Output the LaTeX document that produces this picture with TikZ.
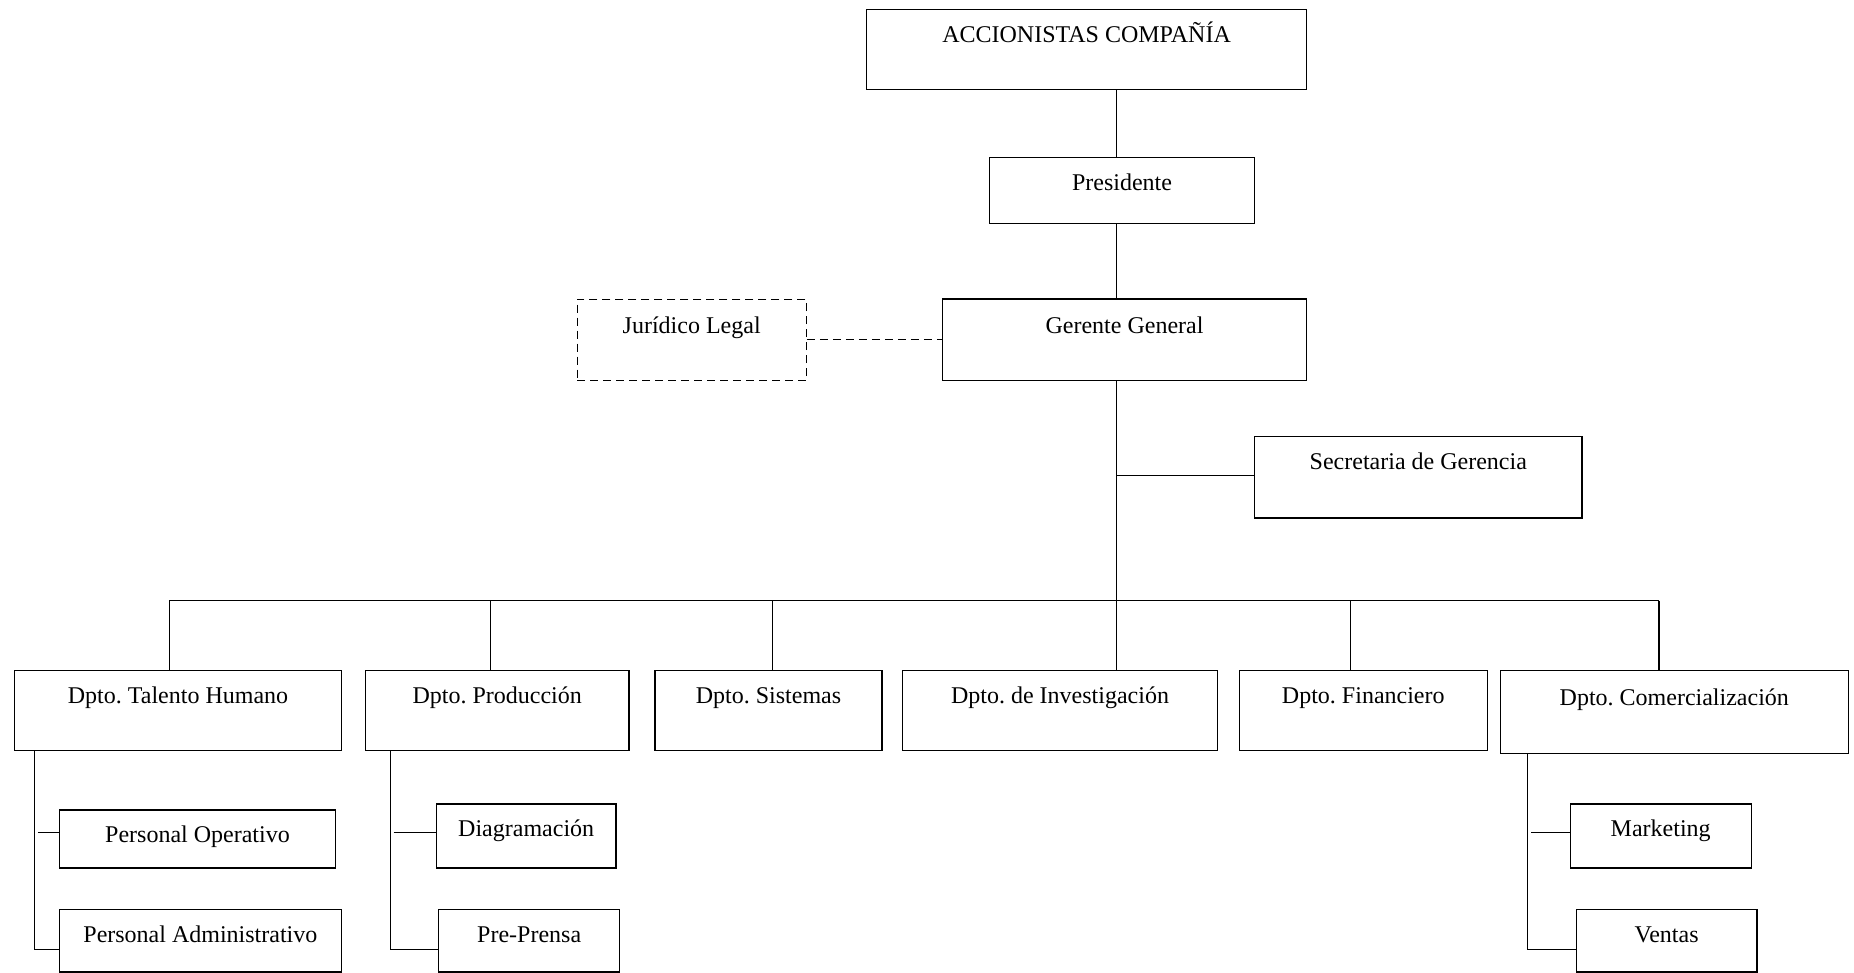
\documentclass[tikz,border=0pt]{standalone}
\usepackage{fontspec}
\setmainfont{Liberation Serif}
\frenchspacing
\usetikzlibrary{positioning}
\tikzset{caja/.style={draw, line width=0.6pt, inner sep=0pt, text height=8pt, font=\fontsize{12pt}{14pt}\selectfont}}
\tikzset{linea/.style={line width=0.6pt}}
\def\filadpto{710.6}
\def\bus{600.7}
\def\tronco{1116.2}

\begin{document}
\begin{tikzpicture}[x=0.5pt, y=-0.5pt]
  \useasboundingbox (0,0) rectangle (1854,973);

  \node[caja, minimum width=220pt, minimum height=40.2pt, text depth=15.4pt] (acc) at (1086.6,49.7) {ACCIONISTAS COMPAÑÍA};
  \node[caja, minimum width=132.4pt, minimum height=33.1pt, text depth=8.3pt] (pres) at (1122,190.4) {Presidente};
  \node[caja, minimum width=182.1pt, minimum height=40.8pt, text depth=14.7pt] (ger) at (1124.5,339.9) {Gerente General};
  \node[caja, line width=0.5pt, dash pattern=on 4pt off 2.5pt, minimum width=114.7pt, minimum height=40.8pt, text depth=14.7pt] (jur) at (691.7,339.9) {Jurídico Legal};
  \node[caja, minimum width=163.75pt, minimum height=40.8pt, text depth=16pt] (sec) at (1418.3,477.1) {Secretaria de Gerencia};

  % departamentos
  \foreach \n/\x/\w/\t in {tal/178/163.75/Dpto. Talento Humano, prod/497.2/131.85/Dpto. Producción,
      sis/768.5/113.5/Dpto. Sistemas, inv/1060/157.85/Dpto. de Investigación, fin/1363.3/124.15/Dpto. Financiero}
  \node[caja, minimum width=\w pt, minimum height=40.2pt, text depth=15.6pt] (\n) at (\x,\filadpto) {\t};
  \node[caja, minimum width=173.8pt, minimum height=41.4pt, text depth=14.2pt] (com) at (1674.3,711.8) {Dpto. Comercialización};

  % secciones
  \node[caja, minimum width=138.35pt, minimum height=29pt, text depth=4.1pt] (po) at (197.5,838.9) {Personal Operativo};
  \node[caja, minimum width=141.3pt, minimum height=31.35pt, text depth=6.6pt] (pa) at (200.4,940.7) {Personal Administrativo};
  \node[caja, minimum width=89.85pt, minimum height=32pt, text depth=7.1pt] (diag) at (526.2,836) {Diagramación};
  \node[caja, minimum width=90.45pt, minimum height=31.35pt, text depth=6.7pt] (pp) at (529.2,940.7) {Pre-Prensa};
  \node[caja, minimum width=90.45pt, minimum height=32pt, text depth=7.1pt] (mkt) at (1660.7,836) {Marketing};
  \node[caja, minimum width=90.45pt, minimum height=31.35pt, text depth=6.7pt] (ven) at (1666.6,940.7) {Ventas};

  %%% Conectores %%%
  \draw[linea] (\tronco,0 |- acc.south) -- (\tronco,0 |- pres.north);
  \draw[linea] (\tronco,0 |- pres.south) -- (\tronco,0 |- ger.north);
  \draw[linea] (\tronco,0 |- ger.south) -- (\tronco,0 |- inv.north);
  \draw[linea] (\tronco,475.3) -- (sec.west |- 0,475.3);
  \draw[linea, dash pattern=on 4pt off 2.5pt] (jur.east) -- (ger.west);

  \coordinate (busL) at (169.1,\bus);
  \coordinate (busR) at (1659,\bus);
  \draw[linea] (busL) -- (busR);
  \foreach \n/\x in {tal/169.1, prod/490.7, sis/772.1, fin/1350.3, com/1659}
  \draw[linea] (\x,\bus) -- (\x,0 |- \n.north);

  \foreach \d/\a/\b/\x in {tal/po/pa/34.3, prod/diag/pp/390.2, com/mkt/ven/1527.7}{
      \draw[linea] (\x,0 |- \d.south) -- (\x,949.5) -- (\b.west |- 0,949.5);
      \draw[linea] (\x+3.5,832.4) -- (\a.west |- 0,832.4);
    }
\end{tikzpicture}
\end{document}
